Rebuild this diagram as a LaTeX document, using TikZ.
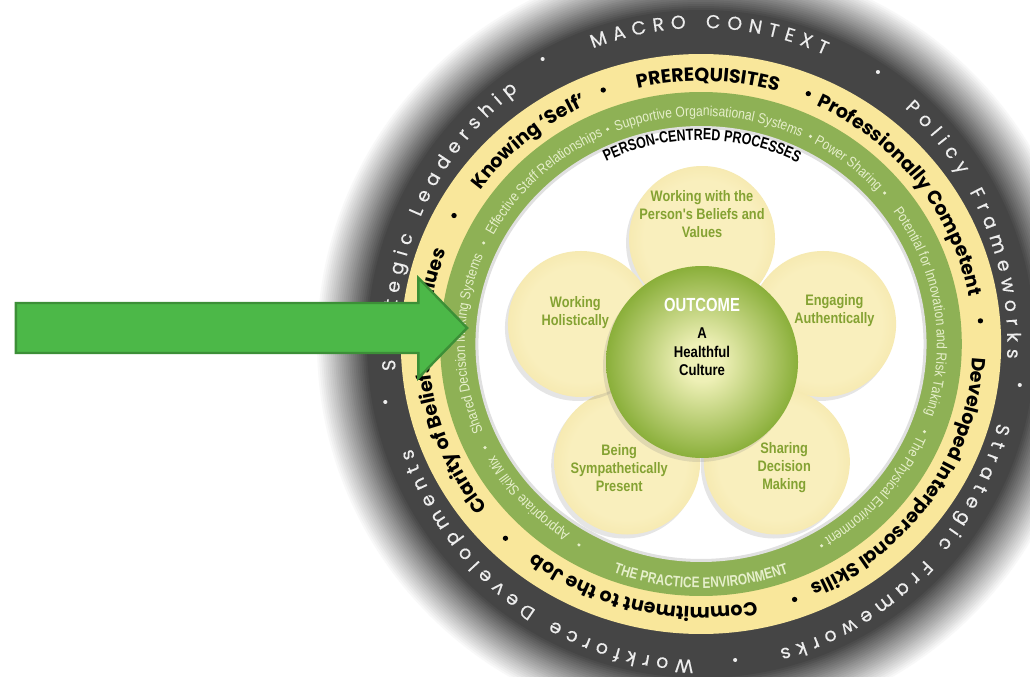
\documentclass[tikz,border=0pt]{standalone}
\usepackage{fontspec}
\setmainfont{Liberation Sans}
\newfontfamily\macrofont[WordSpace=1.3, FakeBold=0.4]{Poppins}
\newfontfamily\prereqfont{Poppins}
\newfontfamily\narrowfont[FakeStretch=0.84]{Liberation Sans}
\newfontfamily\tightfont[FakeStretch=0.78]{Liberation Sans}
\usetikzlibrary{decorations.text,shadows}

\definecolor{glowdark}{HTML}{454545}
\definecolor{outertext}{HTML}{EDEDED}
\definecolor{yellowring}{HTML}{F9E79B}
\definecolor{greenring}{HTML}{8EB155}
\definecolor{greentext}{HTML}{E6EFCB}
\definecolor{petalin}{HTML}{F9EFBD}
\definecolor{petalout}{HTML}{F1E09C}
\definecolor{petalgreen}{HTML}{84A232}
\definecolor{hubin}{HTML}{EEF0B6}
\definecolor{hubout}{HTML}{8AAF3A}
\definecolor{arrowfill}{HTML}{4CB848}
\definecolor{arrowdraw}{HTML}{3C8F37}

% radial shadings reach 50bp at the corners of the path's box, so r/R = bp/35.36
\pgfdeclareradialshading{hubshade}{\pgfpoint{0bp}{0bp}}{color(0bp)=(hubin); color(5bp)=(hubin); color(25bp)=(hubout); color(50bp)=(hubout)}
\pgfdeclareradialshading{petalshade}{\pgfpoint{0bp}{0bp}}{color(0bp)=(petalin); color(20bp)=(petalin); color(35bp)=(petalout); color(50bp)=(petalout)}

\newcommand{\macrostyle}{\macrofont\fontsize{9.4}{9.4}\selectfont\color{outertext}}
\newcommand{\prereqstyle}{\prereqfont\bfseries\fontsize{9.5}{9.5}\selectfont}
\newcommand{\envstyle}{\narrowfont\fontsize{7.2}{7.2}\selectfont\color{greentext}}

\begin{document}
\begin{tikzpicture}
    [x=0.5175pt, y=0.5pt,
    ringtext/.style={decorate, decoration={text along path, text align=center, text={#1}}},
    petal/.style={circle, minimum size=73pt, inner sep=0pt, shading=petalshade, drop shadow={opacity=0.2, shadow xshift=-1.5pt, shadow yshift=-2pt}},
    hub/.style={circle, minimum size=96pt, inner sep=0pt, shading=hubshade, drop shadow={opacity=0.2, shadow xshift=-1.5pt, shadow yshift=-2pt}},
    petaltext/.style={align=center, text=petalgreen, font=\narrowfont\bfseries\fontsize{7.6}{9}\selectfont},
    outcometext/.style={text=white, font=\tightfont\bfseries\fontsize{9.5}{11}\selectfont},
    culturetext/.style={align=center, font=\narrowfont\bfseries\fontsize{7.8}{9.2}\selectfont},
    bigarrow/.style={fill=arrowfill, draw=arrowdraw, line width=1.2pt, line join=miter}
    ]
    \useasboundingbox (-677.3,-333) rectangle (317.9,344);
    \clip (-677.3,-333) rectangle (317.9,344);

    % rings
    \foreach \r [evaluate=\r as \p using (386-\r)*100/52] in {386,384,...,334}
        \fill[glowdark!\p!white] (0,0) ellipse [x radius=0.966*\r, y radius=\r];
    \fill[yellowring] (0,0) circle (290);
    \fill[greenring] (0,0) circle (252);
    \fill[white] (0,0) circle (217);
    \draw[black!12, line width=1.5pt] (0,0) circle (216.5);

    % macro context
    \path[ringtext={|\macrostyle|M A C R O {\ } C O N T E X T}] (138.4:296 and 316) arc[start angle=138.4, end angle=38.4, x radius=296, y radius=316];
    \path[ringtext={|\macrostyle|P o l i c y {\ } F r a m e w o r k s}] (73.1:296 and 316) arc[start angle=73.1, end angle=-26.9, x radius=296, y radius=316];
    \path[ringtext={|\macrostyle|S t r a t e g i c {\ } F r a m e w o r k s}] (4.9:296 and 316) arc[start angle=4.9, end angle=-95.1, x radius=296, y radius=316];
    \path[ringtext={|\macrostyle|W o r k f o r c e {\ } D e v e l o p m e n t s}] (-75.8:296 and 316) arc[start angle=-75.8, end angle=-175.8, x radius=296, y radius=316];
    \path[ringtext={|\macrostyle|S t r a t e g i c {\ } L e a d e r s h i p}] (205.5:296 and 316) arc[start angle=205.5, end angle=105.5, x radius=296, y radius=316];
    \foreach \p in {(171,272),(308,-41),(33,-316),(-305,-58),(-153,285)}
        \fill[outertext] \p circle (2);

    % prerequisites
    \path[ringtext={|\prereqstyle|PREREQUISITES}] (128.5:263) arc[start angle=128.5, end angle=48.5, radius=263];
    \path[ringtext={|\prereqstyle|Professionally Competent}] (82.4:263) arc[start angle=82.4, end angle=-7.6, radius=263];
    \path[ringtext={|\prereqstyle|Developed Interpersonal Skills}] (15.6:263) arc[start angle=15.6, end angle=-84.4, radius=263];
    \path[ringtext={|\prereqstyle|Commitment to the Job}] (-58:263) arc[start angle=-58, end angle=-148, radius=263];
    \path[ringtext={|\prereqstyle|Clarity of Beliefs and Values}] (233.8:263) arc[start angle=233.8, end angle=143.8, radius=263];
    \path[ringtext={|\prereqstyle|Knowing ‘Self’}] (164.8:263) arc[start angle=164.8, end angle=94.8, radius=263];
    \foreach \a in {67.5,4.9,-70.5,-134.2,151.7,110.4}
        \fill[black] (\a:271) circle (2.6);

    % practice environment
    \path[ringtext={|\envstyle|Appropriate Skill Mix}] (-107.5:228) arc[start angle=-107.5, end angle=-167.5, radius=228];
    \path[ringtext={|\envstyle|Shared Decision Making Systems}] (220:228) arc[start angle=220, end angle=140, radius=228];
    \path[ringtext={|\envstyle|Effective Staff Relationships}] (168.3:228) arc[start angle=168.3, end angle=98.3, radius=228];
    \path[ringtext={|\envstyle|Supportive Organisational Systems}] (128:228) arc[start angle=128, end angle=48, radius=228];
    \path[ringtext={|\envstyle|Power Sharing}] (76.5:228) arc[start angle=76.5, end angle=26.5, radius=228];
    \path[ringtext={|\envstyle|Potential for Innovation and Risk Taking}] (53.7:228) arc[start angle=53.7, end angle=-36.3, radius=228];
    \path[ringtext={|\envstyle|The Physical Environment}] (-5.8:228) arc[start angle=-5.8, end angle=-75.8, radius=228];
    \foreach \a in {-120.4,-153.6,154.3,112.8,63,40.4,-22.1,-60}
        \fill[greentext] (\a:233) circle (1.7);
    \path[ringtext={|\tightfont\bfseries\fontsize{7.6}{7.6}\selectfont\color{greentext}|THE PRACTICE ENVIRONMENT}] (-135:244) arc[start angle=-135, end angle=-45, radius=244];
    \path[ringtext={|\tightfont\bfseries\fontsize{8}{8}\selectfont|PERSON-CENTRED PROCESSES}] (134.7:204) arc[start angle=134.7, end angle=44.7, radius=204];

    % person-centred processes
    \begin{scope}[shift={(1,-18)}]
        \node[petal] (beliefs) at (90:123) {};
        \node[petal] (engaging) at (18:123) {};
        \node[petal] (sharing) at (-54:123) {};
        \node[petal] (sympathy) at (-126:123) {};
        \node[petal] (holistic) at (162:123) {};
        \node[hub] (outcome) at (0,0) {};
        \node[petaltext] (beliefstext) at (90:148) {Working with the\\Person's Beliefs and\\Values};
        \node[petaltext] (engagingtext) at (22:138) {Engaging\\Authentically};
        \node[petaltext] (sharingtext) at (-53:132) {Sharing\\Decision\\Making};
        \node[petaltext] (sympathytext) at (-127:133) {Being\\Sympathetically\\Present};
        \node[petaltext] (holistictext) at (158:132) {Working\\Holistically};
        \node[outcometext] (outcomelabel) at (0,57) {OUTCOME};
        \node[culturetext] (culture) at (0,10) {A\\Healthful\\Culture};
    \end{scope}

    \draw[bigarrow] (-662,41) -- (-273,41) -- (-273,66) -- (-226,16) -- (-273,-34) -- (-273,-9) -- (-662,-9) -- cycle;
\end{tikzpicture}
\end{document}
